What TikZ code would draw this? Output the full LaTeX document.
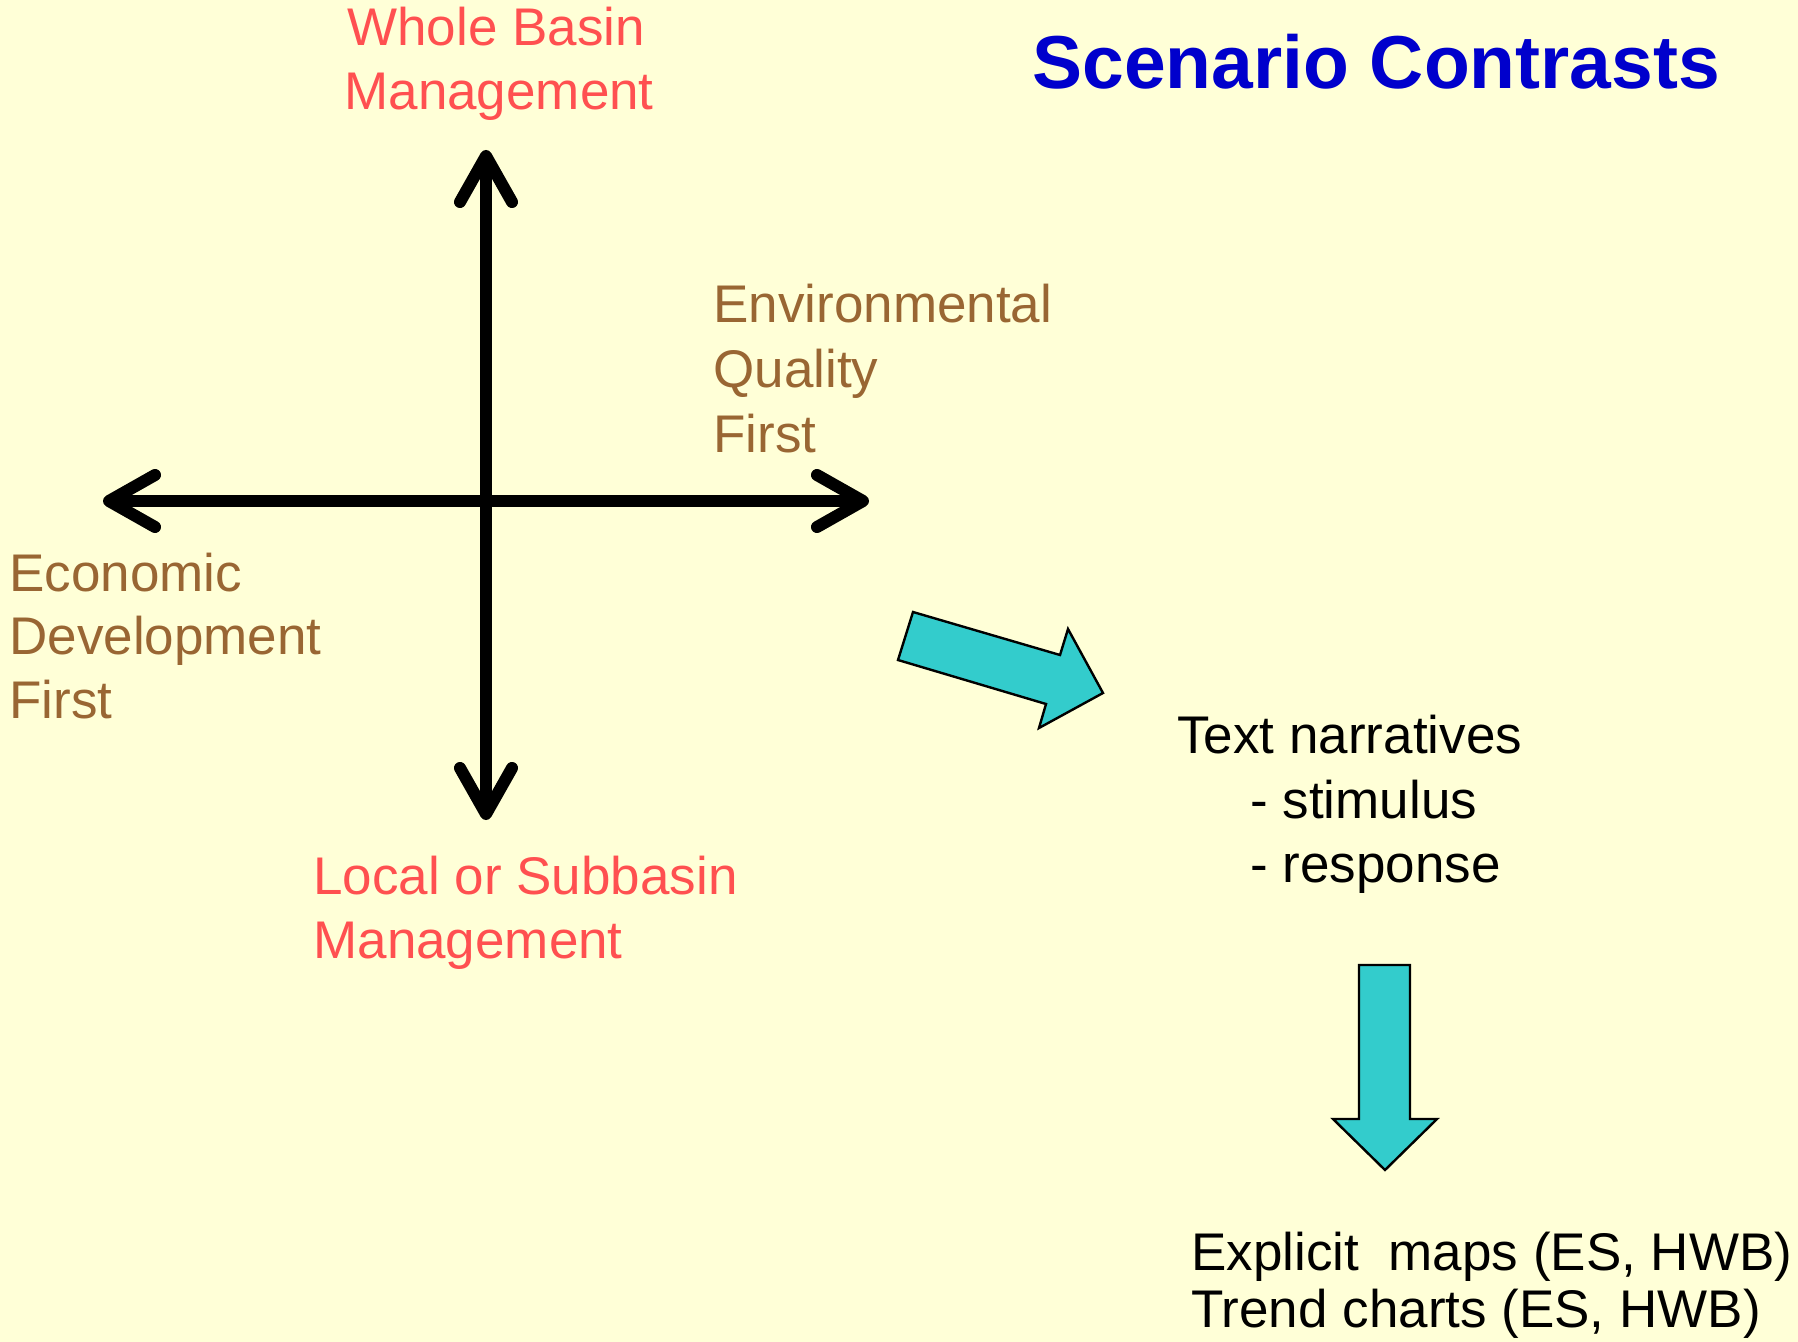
\documentclass[tikz,border=0pt]{standalone}
\usepackage{fontspec}
\setmainfont{Liberation Sans}
\usetikzlibrary{arrows.meta}

\definecolor{paper}{HTML}{FFFFD7}
\definecolor{lblred}{HTML}{FF5050}
\definecolor{lblbrown}{HTML}{996633}
\definecolor{ttlblue}{HTML}{0000CC}
\definecolor{arrowteal}{HTML}{33CCCC}

\tikzset{
  lbl/.style={anchor=base west, inner sep=0pt, font=\fontsize{26.5pt}{31pt}\selectfont},
  redlbl/.style={lbl, text=lblred},
  brownlbl/.style={lbl, text=lblbrown},
  blacklbl/.style={lbl, text=black},
  ttl/.style={anchor=base west, inner sep=0pt, text=ttlblue,
    font=\fontsize{37.5pt}{40pt}\selectfont\bfseries},
  barb/.tip={Straight Barb[length=23pt,width=26pt,round]},
  axis/.style={line width=6pt, barb-barb},
  axisshadow/.style={axis, draw=black, opacity=0.16},
  fatarrow/.style={fill=arrowteal, draw=black, line width=1.2pt, line join=miter}
}

\begin{document}
\begin{tikzpicture}[x=0.5pt,y=-0.5pt]
  % page
  \fill[paper] (0,0) rectangle (1798,1342);
  \useasboundingbox (0,0) rectangle (1798,1342);

  % title
  \node[ttl] (title) at (1032,89) {Scenario Contrasts};

  % axis end points
  \coordinate (axN) at (486,150);
  \coordinate (axS) at (486,820);
  \coordinate (axW) at (103,501);
  \coordinate (axE) at (869,501);

  % soft drop shadow of the axes
  \begin{scope}[shift={(3,4)}]
    \draw[axisshadow] (axN) -- (axS);
    \draw[axisshadow] (axW) -- (axE);
  \end{scope}

  % the two scenario axes
  \draw[axis] (axN) -- (axS);
  \draw[axis] (axW) -- (axE);

  % axis labels
  \node[redlbl] (wb1) at (347,46) {Whole Basin};
  \node[redlbl] (wb2) at (344,110) {Management};

  \node[brownlbl] (eq1) at (713,323) {Environmental};
  \node[brownlbl] (eq2) at (713,387) {Quality};
  \node[brownlbl] (eq3) at (713,452) {First};

  \node[brownlbl] (ed1) at (9,591) {Economic};
  \node[brownlbl] (ed2) at (9,654) {Development};
  \node[brownlbl] (ed3) at (9,718) {First};

  \node[redlbl] (ls1) at (313,894) {Local or Subbasin};
  \node[redlbl] (ls2) at (313,958) {Management};

  % block arrows
  \draw[fatarrow] (913,612) -- (1060,655) -- (1068,629) -- (1103,693)
                  -- (1039,728) -- (1046,704) -- (898,660) -- cycle;
  \draw[fatarrow] (1359,965) -- (1410,965) -- (1410,1119) -- (1437,1119)
                  -- (1385,1170) -- (1333,1119) -- (1359,1119) -- cycle;

  % outputs
  \node[blacklbl] (tn1) at (1177,753) {Text narratives};
  \node[blacklbl] (tn2) at (1250,818) {- stimulus};
  \node[blacklbl] (tn3) at (1250,882) {- response};

  \node[blacklbl] (out1) at (1191,1270) {Explicit\ \ maps (ES, HWB)};
  \node[blacklbl] (out2) at (1191,1327) {Trend charts (ES, HWB)};
\end{tikzpicture}
\end{document}
